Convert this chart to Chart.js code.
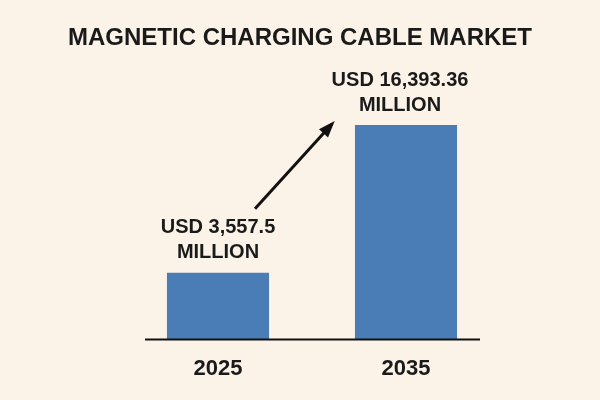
<!DOCTYPE html>
<html>
<head>
<meta charset="utf-8">
<script src="https://cdn.jsdelivr.net/npm/chart.js@4"></script>
<style>
  html, body { margin: 0; padding: 0; background: #fbf3e8; }
  #wrap { width: 600px; height: 400px; }
</style>
</head>
<body>
<div id="wrap"><canvas id="barChart"></canvas></div>
<script>
// chart data
const years = ['2025', '2035'];
const marketValues = [3557.5, 16393.36];
const valueLabels = [['USD 3,557.5', 'MILLION'], ['USD 16,393.36', 'MILLION']];
const chartTitle = 'MAGNETIC CHARGING CABLE MARKET';

// hidden baseline so the short bar keeps the picture's proportions
const baseValue = -2252;

// title, value labels, arrow and axis line
const decorPlugin = {
    id: 'decor',
    beforeDraw(chart) {
        const c = chart.ctx;
        c.save();
        c.fillStyle = '#fbf3e8';
        c.fillRect(0, 0, chart.width, chart.height);
        c.restore();
    },
    afterDraw(chart) {
        const c = chart.ctx;
        const meta = chart.getDatasetMeta(0);
        const area = chart.chartArea;
        c.save();
        c.fillStyle = '#1a1a1a';
        c.textAlign = 'center';
        c.textBaseline = 'middle';
        c.font = 'bold 24px "Liberation Sans", sans-serif';
        c.fillText(chartTitle, 300, 38);

        c.font = 'bold 20px "Liberation Sans", sans-serif';
        meta.data.forEach((bar, i) => {
            const dx = i === 1 ? -6 : 0;
            c.fillText(valueLabels[i][0], bar.x + dx, bar.y - 45);
            c.fillText(valueLabels[i][1], bar.x + dx, bar.y - 20);
        });

        // arrow
        const x1 = meta.data[0].x + 37, y1 = meta.data[0].y - 64;
        const x2 = meta.data[1].x - 74, y2 = meta.data[1].y - 1;
        c.strokeStyle = '#111';
        c.lineWidth = 3;
        c.beginPath();
        c.moveTo(x1, y1);
        c.lineTo(x2, y2);
        c.stroke();
        const ang = Math.atan2(y2 - y1, x2 - x1);
        c.beginPath();
        c.moveTo(x2 + 4 * Math.cos(ang), y2 + 4 * Math.sin(ang));
        c.lineTo(x2 - 14 * Math.cos(ang - 0.45), y2 - 14 * Math.sin(ang - 0.45));
        c.lineTo(x2 - 14 * Math.cos(ang + 0.45), y2 - 14 * Math.sin(ang + 0.45));
        c.closePath();
        c.fillStyle = '#111';
        c.fill();

        // axis line
        c.strokeStyle = '#111';
        c.lineWidth = 2;
        c.beginPath();
        c.moveTo(145, area.bottom);
        c.lineTo(480, area.bottom);
        c.stroke();
        c.restore();
    }
};

new Chart(document.getElementById('barChart').getContext('2d'), {
    type: 'bar',
    data: {
        labels: years,
        datasets: [{
            data: marketValues,
            base: baseValue,
            backgroundColor: '#4a7db5',
            barPercentage: 0.543,
            categoryPercentage: 1
        }]
    },
    options: {
        responsive: true,
        maintainAspectRatio: false,
        animation: false,
        layout: { padding: { top: 125, left: 124, right: 100, bottom: 10 } },
        scales: {
            y: {
                display: false,
                min: baseValue,
                max: 16393.36
            },
            x: {
                grid: { display: false },
                border: { display: false },
                ticks: {
                    color: '#1a1a1a',
                    font: { family: '"Liberation Sans", sans-serif', size: 22, weight: 'bold' },
                    padding: 8
                }
            }
        },
        plugins: {
            legend: { display: false },
            tooltip: { enabled: false }
        }
    },
    plugins: [decorPlugin]
});
</script>
</body>
</html>
